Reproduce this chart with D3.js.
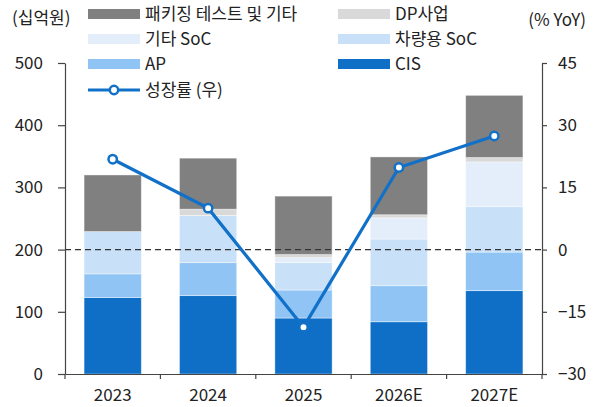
<!DOCTYPE html>
<html>
<head>
<meta charset="utf-8">
<script src="https://cdn.jsdelivr.net/npm/d3@7"></script>
<style>
  body { margin: 0; background: #fff; }
  svg text { font-family: "Noto Sans CJK KR", "Noto Sans", sans-serif; fill: #222; }
</style>
</head>
<body>
<div class="container"></div>
<script>
const width = 598,
    height = 407;

const years = ['2023', '2024', '2025', '2026E', '2027E'];
const cis = [123, 126, 90, 84, 134];
const ap = [38, 53, 45, 58, 62];
const autoSoc = [68, 76, 44, 75, 73];
const etcSoc = [0, 0, 8, 34, 72];
const dp = [0, 10, 5, 5, 7];
const pkg = [91, 82, 94, 93, 100];
const growth = [21.8, 10.0, -18.7, 19.8, 27.4];

const leftTicks = [0, 100, 200, 300, 400, 500];
const rightTicks = [-30, -15, 0, 15, 30, 45];

// stack order bottom -> top
const series = [
    { key: 'CIS', values: cis, color: '#0f6fc6' },
    { key: 'AP', values: ap, color: '#90c4f4' },
    { key: '차량용 SoC', values: autoSoc, color: '#c8e0f8' },
    { key: '기타 SoC', values: etcSoc, color: '#e4eefa' },
    { key: 'DP사업', values: dp, color: '#d9d9d9' },
    { key: '패키징 테스트 및 기타', values: pkg, color: '#808080' }
];

const table = years.map((y, i) => {
    const row = { year: y };
    series.forEach(s => row[s.key] = s.values[i]);
    return row;
});

const stacked = d3.stack().keys(series.map(s => s.key))(table);

const x = d3.scaleBand()
    .domain(years)
    .range([65, 542])
    .paddingInner(0.4)
    .paddingOuter(0.2);

const y = d3.scaleLinear().domain([0, 500]).range([374, 63]);
const y2 = d3.scaleLinear().domain([-30, 45]).range([374, 63]);

const svg = d3.select('.container')
    .append('svg')
    .attr('width', width)
    .attr('height', height);

// bars
svg.append('g')
    .selectAll('g')
    .data(stacked)
    .enter()
    .append('g')
    .attr('fill', (d, i) => series[i].color)
    .selectAll('rect')
    .data(d => d)
    .enter()
    .append('rect')
    .attr('x', d => x(d.data.year))
    .attr('width', x.bandwidth())
    .attr('y', d => y(d[1]))
    .attr('height', d => y(d[0]) - y(d[1]))
    .attr('stroke', '#fff')
    .attr('stroke-opacity', 0.5)
    .attr('stroke-width', 0.8);

// zero growth dashed line
svg.append('line')
    .attr('x1', 65).attr('x2', 542)
    .attr('y1', y2(0)).attr('y2', y2(0))
    .attr('stroke', '#333')
    .attr('stroke-width', 1.3)
    .attr('stroke-dasharray', '6,4');

// left axis
const leftAxis = svg.append('g')
    .attr('transform', 'translate(65,0)')
    .call(d3.axisLeft(y).tickValues(leftTicks).tickSize(7).tickSizeOuter(0).tickPadding(15));

// right axis
const rightAxis = svg.append('g')
    .attr('transform', 'translate(542,0)')
    .call(d3.axisRight(y2).tickValues(rightTicks).tickSize(5).tickSizeOuter(0).tickPadding(11));

// bottom axis
const bottomAxis = svg.append('g')
    .attr('transform', 'translate(0,374)')
    .call(d3.axisBottom(x).tickSize(0).tickPadding(15).tickSizeOuter(0));

bottomAxis.selectAll('.bound')
    .data(years.map(yr => x(yr) - x.step() * x.paddingInner() / 2).concat([542]))
    .enter()
    .append('line')
    .attr('class', 'bound')
    .attr('x1', d => d).attr('x2', d => d)
    .attr('y1', 0).attr('y2', 5)
    .attr('stroke', '#333');

[leftAxis, rightAxis, bottomAxis].forEach(a => {
    a.selectAll('path, line').attr('stroke', '#444').attr('stroke-width', 1.2);
    a.selectAll('text').style('font-size', '17px').style('fill', '#222');
});

// growth line
const lineColor = '#1170c8';
svg.append('path')
    .datum(growth)
    .attr('fill', 'none')
    .attr('stroke', lineColor)
    .attr('stroke-width', 3.2)
    .attr('d', d3.line()
        .x((d, i) => x(years[i]) + x.bandwidth() / 2)
        .y(d => y2(d)));

svg.append('g')
    .selectAll('circle')
    .data(growth)
    .enter()
    .append('circle')
    .attr('cx', (d, i) => x(years[i]) + x.bandwidth() / 2)
    .attr('cy', d => y2(d))
    .attr('r', 4.2)
    .attr('fill', '#fff')
    .attr('stroke', lineColor)
    .attr('stroke-width', 2.5);

// unit labels
svg.append('text')
    .attr('x', 12).attr('y', 24)
    .style('font-size', '17px')
    .text('(십억원)');

svg.append('text')
    .attr('x', 586).attr('y', 26)
    .attr('text-anchor', 'end')
    .style('font-size', '17px')
    .text('(% YoY)');

// legend
const legendItems = [
    { key: '패키징 테스트 및 기타', col: 0, row: 0 },
    { key: 'DP사업', col: 1, row: 0 },
    { key: '기타 SoC', col: 0, row: 1 },
    { key: '차량용 SoC', col: 1, row: 1 },
    { key: 'AP', col: 0, row: 2 },
    { key: 'CIS', col: 1, row: 2 }
];

const legend = svg.append('g').attr('id', 'legend');
const colX = [88, 338],
    rowY = [14, 39, 64, 90];

legendItems.forEach(item => {
    const s = series.find(d => d.key === item.key);
    const lx = colX[item.col], ly = rowY[item.row];
    legend.append('rect')
        .attr('x', lx).attr('y', ly - 5)
        .attr('width', 52).attr('height', 10)
        .attr('fill', s.color);
    legend.append('text')
        .attr('x', lx + 57).attr('y', ly)
        .attr('dy', '0.36em')
        .style('font-size', '17px')
        .text(item.key);
});

legend.append('line')
    .attr('x1', colX[0]).attr('x2', colX[0] + 52)
    .attr('y1', rowY[3]).attr('y2', rowY[3])
    .attr('stroke', lineColor)
    .attr('stroke-width', 3.2);
legend.append('circle')
    .attr('cx', colX[0] + 26).attr('cy', rowY[3])
    .attr('r', 4.2)
    .attr('fill', '#fff')
    .attr('stroke', lineColor)
    .attr('stroke-width', 2.5);
legend.append('text')
    .attr('x', colX[0] + 57).attr('y', rowY[3])
    .attr('dy', '0.36em')
    .style('font-size', '17px')
    .text('성장률 (우)');
</script>
</body>
</html>
